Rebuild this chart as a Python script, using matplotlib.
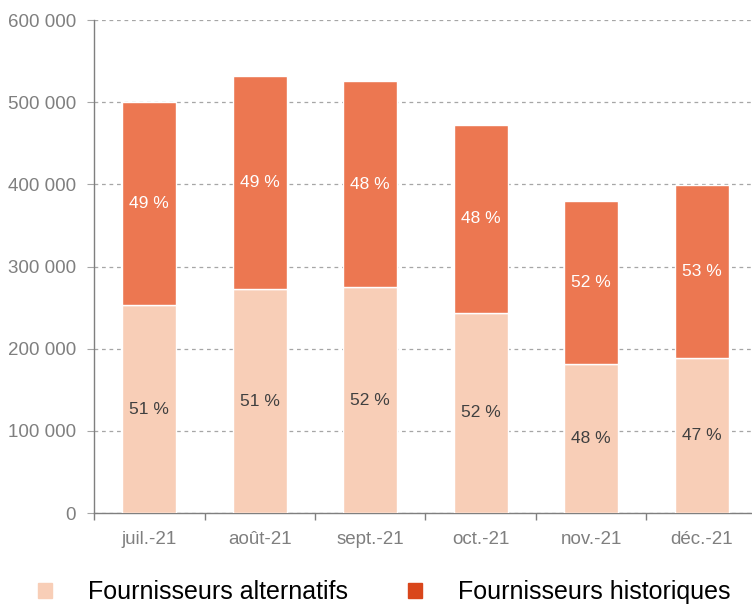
import matplotlib
matplotlib.use("Agg")
import matplotlib.pyplot as plt
from matplotlib.patches import Patch

plt.rcParams["font.family"] = ["Liberation Sans", "DejaVu Sans"]

# ============================================================
# DATA
# ============================================================

months = ["juil.-21", "août-21", "sept.-21", "oct.-21", "nov.-21", "déc.-21"]
alternatifs = [253000, 272500, 275000, 243500, 181300, 188600]
historiques = [247200, 259300, 250700, 228700, 198400, 210600]
pct_alt = ["51 %", "51 %", "52 %", "52 %", "48 %", "47 %"]
pct_hist = ["49 %", "49 %", "48 %", "48 %", "52 %", "53 %"]
y_ticks = [0, 100000, 200000, 300000, 400000, 500000, 600000]
y_labels = ["0", "100 000", "200 000", "300 000", "400 000", "500 000", "600 000"]

LIGHT = "#F8CEB7"
DARK = "#EC7751"
DARK_LEGEND = "#D9461B"
GRAY = "#7F7F7F"

# ============================================================
# PLOT
# ============================================================

W, H = 752, 605
fig = plt.figure(figsize=(W / 100, H / 100), dpi=100)
ax = fig.add_axes([94 / W, 1 - 513 / H, (757 - 94) / W, (513 - 20) / H])

x = list(range(len(months)))
ax.bar(x, alternatifs, width=0.49, color=LIGHT, edgecolor="white", linewidth=1, zorder=3)
ax.bar(x, historiques, width=0.49, bottom=alternatifs, color=DARK,
       edgecolor="white", linewidth=1, zorder=3)

for i in x:
    ax.text(i, alternatifs[i] / 2, pct_alt[i], ha="center", va="center",
            fontsize=12.5, color="#404040", zorder=4)
    ax.text(i, alternatifs[i] + historiques[i] / 2, pct_hist[i], ha="center",
            va="center", fontsize=12.5, color="white", zorder=4)

ax.set_xlim(-0.5, len(months) - 0.5)
ax.set_ylim(0, 600000)
ax.set_yticks(y_ticks)
ax.set_yticklabels(y_labels)
ax.yaxis.grid(True, linestyle=(0, (3, 3)), color="#A6A6A6", linewidth=0.9, zorder=0)

ax.set_xticks(x)
ax.set_xticklabels(months)
ax.set_xticks([i - 0.5 for i in range(len(months) + 1)], minor=True)
ax.tick_params(axis="x", which="major", length=0, pad=13, labelsize=13.5, labelcolor=GRAY)
ax.tick_params(axis="x", which="minor", length=5, color=GRAY, width=1)
ax.tick_params(axis="y", length=5, color="#A6A6A6", labelsize=13.5, labelcolor=GRAY, pad=8)

for side in ["top", "right"]:
    ax.spines[side].set_visible(False)
for side in ["left", "bottom"]:
    ax.spines[side].set_color(GRAY)
    ax.spines[side].set_linewidth(1)

# legend: two entries placed like the original
legend_items = [("Fournisseurs alternatifs", LIGHT, 38), ("Fournisseurs historiques", DARK_LEGEND, 408)]
for label, color, xpos in legend_items:
    fig.legend(handles=[Patch(color=color, label=label)], loc="center left",
               bbox_to_anchor=(xpos / W, 1 - 592 / H), frameon=False, fontsize=18,
               handlelength=0.55, handleheight=0.55, handletextpad=1.45,
               borderpad=0, borderaxespad=0)

fig.savefig("out.png", dpi=100)
